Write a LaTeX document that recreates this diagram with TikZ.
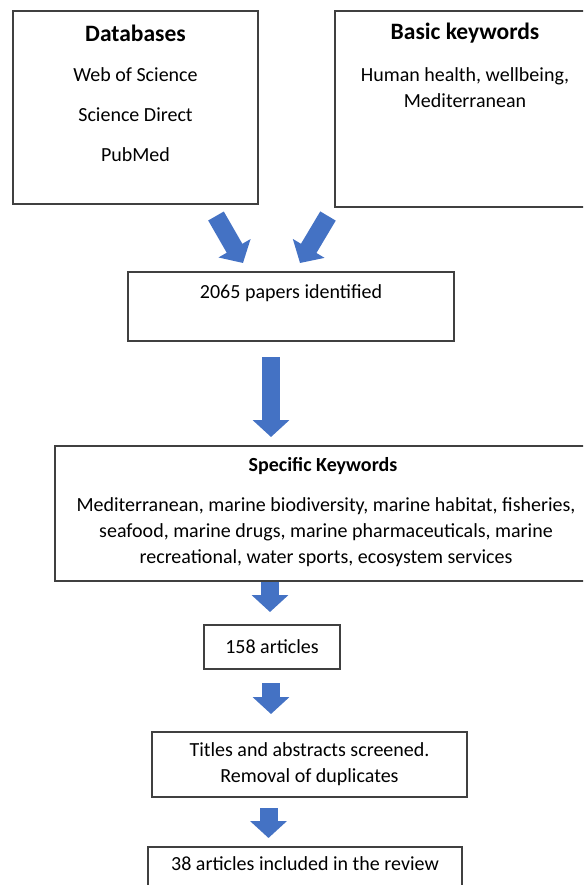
\documentclass[tikz,border=0pt]{standalone}
\usepackage{fontspec}
\setmainfont{Carlito}
\usetikzlibrary{arrows.meta,positioning}
\definecolor{arrowblue}{HTML}{4472C4}
\definecolor{boxline}{HTML}{404040}

\begin{document}
\begin{tikzpicture}[
    x=1pt, y=-1pt,
    every node/.style={font=\fontsize{20}{26}\selectfont},
    box/.style={draw=boxline, line width=1.3pt, rectangle, inner sep=0pt},
    txt/.style={align=center, inner sep=0pt},
    headtxt/.style={txt, font=\fontsize{23.5}{28}\selectfont\bfseries},
    blockarrow/.style={draw=arrowblue, line width=18pt, -{Triangle[length=17pt,width=36pt]}}
]
    \useasboundingbox (0,0) rectangle (583,885);
    \clip (0,0) rectangle (583,885);

    % === SEARCH SOURCES ===
    \node[box, minimum width=245pt, minimum height=193pt] (db) at (135.5,107.5) {};
    \node[headtxt] (dbtitle) at (135.5,33) {Databases};
    \node[txt, font=\fontsize{20}{40}\selectfont] (dblist) at (135.5,115) {Web of Science\\Science Direct\\PubMed};

    \node[box, minimum width=260pt, minimum height=196pt] (kw) at (465,109) {};
    \node[headtxt] (kwtitle) at (465,33) {Basic keywords};
    \node[txt] (kwlist) at (465,88) {Human health, wellbeing,\\Mediterranean};

    % === SCREENING STEPS ===
    \node[box, minimum width=326pt, minimum height=69pt] (ids) at (291,306.5) {};
    \node[txt] (idstxt) at (291,293) {2065 papers identified};

    \node[box, minimum width=542pt, minimum height=135pt] (spec) at (326,513.5) {};
    \node[txt, font=\fontsize{20}{24}\selectfont\bfseries] (spectitle) at (323,466) {Specific Keywords};
    \node[txt] (speclist) at (326,532) {Mediterranean, marine biodiversity, marine habitat, fisheries,\\
        seafood, marine drugs, marine pharmaceuticals, marine\\
        recreational, water sports, ecosystem services};

    \node[box, minimum width=136pt, minimum height=44pt] (art) at (272,647) {158 articles};

    \node[box, minimum width=315pt, minimum height=65pt, align=center] (scr) at (309.5,764.5) {Titles and abstracts screened.\\Removal of duplicates};

    \node[box, minimum width=314pt, minimum height=60pt] (incl) at (305,877) {};
    \node[txt] (incltxt) at (305,864) {38 articles included in the review};

    % === BLOCK ARROWS ===
    \coordinate (la-s) at (216,216);
    \coordinate (la-e) at (243,263);
    \coordinate (ra-s) at (328,216);
    \coordinate (ra-e) at (300,263);
    \coordinate (a1-s) at (271,357);
    \coordinate (a1-e) at (271,437);
    \coordinate (a2-s) at (270,582);
    \coordinate (a2-e) at (270,612);
    \coordinate (a3-s) at (271,683);
    \coordinate (a3-e) at (271,714);
    \coordinate (a4-s) at (268.5,808);
    \coordinate (a4-e) at (268.5,838);

    \draw[blockarrow] (la-s) -- (la-e);
    \draw[blockarrow] (ra-s) -- (ra-e);
    \draw[blockarrow] (a1-s) -- (a1-e);
    \draw[blockarrow] (a2-s) -- (a2-e);
    \draw[blockarrow] (a3-s) -- (a3-e);
    \draw[blockarrow] (a4-s) -- (a4-e);
\end{tikzpicture}
\end{document}
